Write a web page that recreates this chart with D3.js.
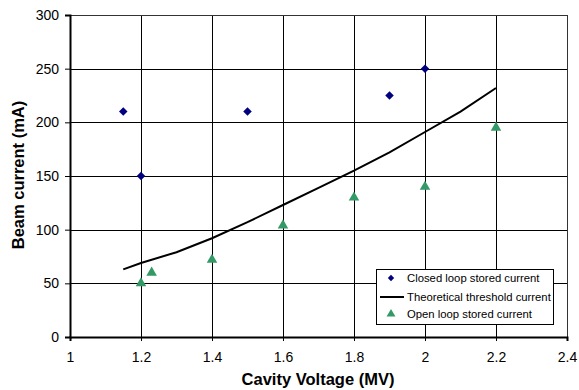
<!DOCTYPE html>
<html>
<head>
<meta charset="utf-8">
<script src="https://cdn.jsdelivr.net/npm/d3@7"></script>
<style>
  body { margin: 0; background: #fff; }
  svg { display: block; font-family: "Liberation Sans", Arial, sans-serif; }
</style>
</head>
<body>
<div id="chart"></div>
<script>
// Data
const closedV = [1.15, 1.2, 1.5, 1.9, 2.0];
const closedI = [210, 150, 210, 225, 250];

const openV = [1.2, 1.23, 1.4, 1.6, 1.8, 2.0, 2.2];
const openI = [50, 60, 72, 104, 130, 140, 195];

const theoryV = [1.15, 1.2, 1.3, 1.4, 1.5, 1.6, 1.7, 1.8, 1.9, 2.0, 2.1, 2.2];
const theoryI = [63, 69, 79, 92, 107, 123, 139, 155, 172, 191, 210, 232];

const xTicks = [1, 1.2, 1.4, 1.6, 1.8, 2, 2.2, 2.4];
const yTicks = [0, 50, 100, 150, 200, 250, 300];

const legendLabels = ['Closed loop stored current', 'Theoretical threshold current', 'Open loop stored current'];

const width = 579, height = 390;
const margin = { top: 15, right: 12, bottom: 53, left: 70 };
const w = width - margin.left - margin.right;
const h = height - margin.top - margin.bottom;

const navy = '#000080';
const green = '#339966';

const svg = d3.select('#chart').append('svg')
  .attr('width', width)
  .attr('height', height);

const x = d3.scaleLinear().domain([1, 2.4]).range([0, w]);
const y = d3.scaleLinear().domain([0, 300]).range([h, 0]);

const g = svg.append('g').attr('transform', `translate(${margin.left},${margin.top})`);

// Grid
g.append('g').selectAll('line').data(yTicks).join('line')
  .attr('x1', 0).attr('x2', w)
  .attr('y1', (d) => Math.round(y(d)) + 0.5).attr('y2', (d) => Math.round(y(d)) + 0.5)
  .attr('stroke', '#000').attr('stroke-width', 1);
g.append('g').selectAll('line').data(xTicks).join('line')
  .attr('y1', 0).attr('y2', h)
  .attr('x1', (d) => Math.round(x(d)) + 0.5).attr('x2', (d) => Math.round(x(d)) + 0.5)
  .attr('stroke', '#000').attr('stroke-width', 1);

// Plot border
g.append('rect')
  .attr('x', 0.5).attr('y', 0.5).attr('width', w).attr('height', h)
  .attr('fill', 'none').attr('stroke', '#333');

// Axes
const xAxis = g.append('g')
  .attr('transform', `translate(0,${h})`)
  .call(d3.axisBottom(x).tickValues(xTicks).tickSize(4).tickPadding(11).tickFormat(d3.format('')));
const yAxis = g.append('g')
  .call(d3.axisLeft(y).tickValues(yTicks).tickSize(5).tickPadding(6));

[xAxis, yAxis].forEach((a) => {
  a.select('.domain').attr('stroke', '#000').attr('stroke-width', 2);
  a.selectAll('.tick line').attr('stroke', '#000');
  a.selectAll('.tick text').attr('font-size', '14px').attr('fill', '#000')
    .attr('font-family', '"Liberation Sans", Arial, sans-serif');
});

// Theoretical line
const line = d3.line().x((d) => x(d[0])).y((d) => y(d[1]));
g.append('path')
  .datum(theoryV.map((v, i) => [v, theoryI[i]]))
  .attr('d', line)
  .attr('fill', 'none')
  .attr('stroke', '#000')
  .attr('stroke-width', 2);

// Markers
const diamond = d3.symbol().type(d3.symbolSquare).size(36);
const triangle = d3.symbol().type(d3.symbolTriangle).size(48);

g.append('g').selectAll('path').data(closedV.map((v, i) => [v, closedI[i]])).join('path')
  .attr('d', diamond)
  .attr('transform', (d) => `translate(${x(d[0])},${y(d[1])}) rotate(45)`)
  .attr('fill', navy);

g.append('g').selectAll('path').data(openV.map((v, i) => [v, openI[i]])).join('path')
  .attr('d', triangle)
  .attr('transform', (d) => `translate(${x(d[0])},${y(d[1])})`)
  .attr('fill', green);

// Axis titles
svg.append('text')
  .attr('x', 318).attr('y', 385)
  .attr('text-anchor', 'middle')
  .attr('font-size', '16.5px').attr('font-weight', 'bold')
  .text('Cavity Voltage (MV)');

svg.append('text')
  .attr('transform', 'translate(24,175) rotate(-90)')
  .attr('text-anchor', 'middle')
  .attr('font-size', '16.5px').attr('font-weight', 'bold')
  .text('Beam current (mA)');

// Legend
const lg = svg.append('g').attr('transform', 'translate(376,269)');
lg.append('rect')
  .attr('x', 0.5).attr('y', 0.5).attr('width', 177).attr('height', 55)
  .attr('fill', '#fff').attr('stroke', '#000');

const rows = [9, 28, 45];
lg.append('path').attr('d', d3.symbol().type(d3.symbolSquare).size(20))
  .attr('transform', `translate(15,${rows[0]}) rotate(45)`).attr('fill', navy);
lg.append('line').attr('x1', 4).attr('x2', 28).attr('y1', rows[1]).attr('y2', rows[1])
  .attr('stroke', '#000').attr('stroke-width', 2);
lg.append('path').attr('d', d3.symbol().type(d3.symbolTriangle).size(34))
  .attr('transform', `translate(15,${rows[2]})`).attr('fill', green);

lg.selectAll('text.lab').data(legendLabels).join('text')
  .attr('class', 'lab')
  .attr('x', 31)
  .attr('y', (d, i) => rows[i])
  .attr('dy', '0.35em')
  .attr('font-size', '11.3px')
  .text((d) => d);
</script>
</body>
</html>
